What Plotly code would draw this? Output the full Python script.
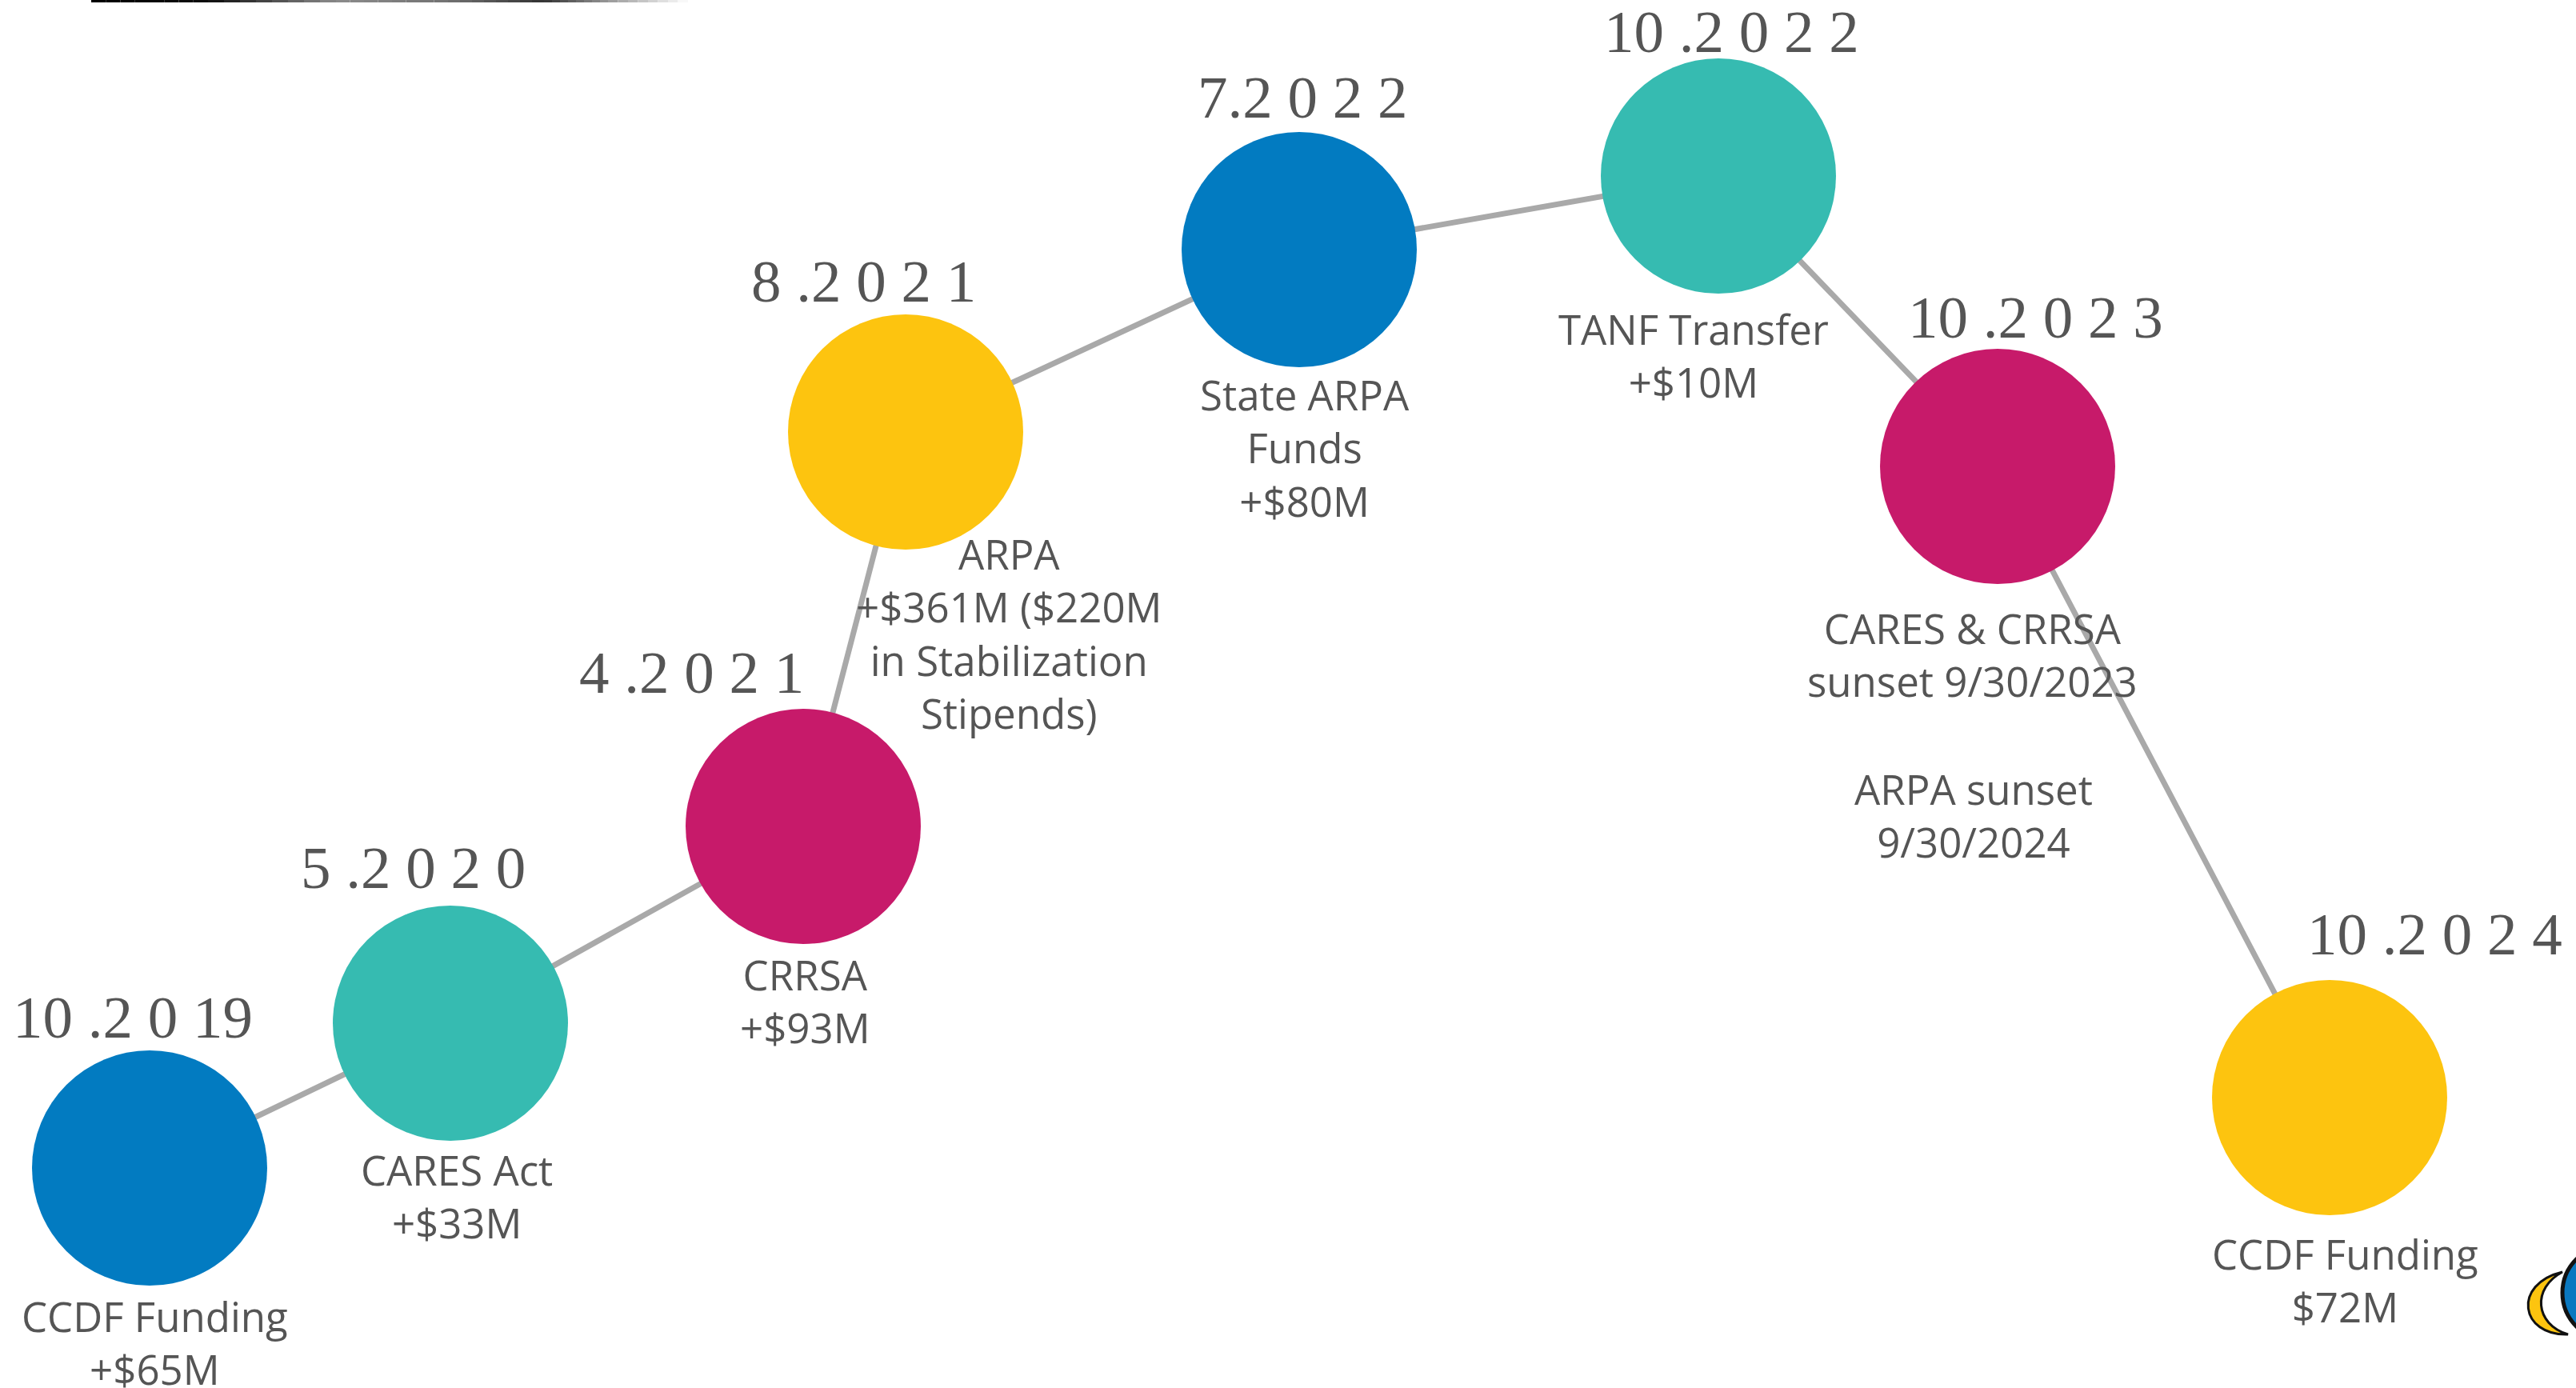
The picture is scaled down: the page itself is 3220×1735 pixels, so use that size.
import plotly.graph_objects as go

# timeline events (pixel space of the 3220x1735 canvas, y grows downward)
event_x = [187, 563, 1004, 1132, 1624, 2148, 2497, 2912]
event_y = [1460, 1279, 1033, 540, 312, 220, 583, 1372]
event_dates = ["10 .2 0 19", "5 .2 0 2 0", "4 .2 0 2 1", "8 .2 0 2 1",
               "7.2 0 2 2", "10 .2 0 2 2", "10 .2 0 2 3", "10 .2 0 2 4"]
event_labels = [
    "CCDF Funding<br>+$65M",
    "CARES Act<br>+$33M",
    "CRRSA<br>+$93M",
    "ARPA<br>+$361M ($220M<br>in Stabilization<br>Stipends)",
    "State ARPA<br>Funds<br>+$80M",
    "TANF Transfer<br>+$10M",
    "CARES & CRRSA<br>sunset 9/30/2023",
    "CCDF Funding<br>$72M",
]
event_colors = ["#027bc1", "#36bbb1", "#c71a6a", "#fdc40f",
                "#027bc1", "#36bbb1", "#c71a6a", "#fdc40f"]
extra_note = "ARPA sunset<br>9/30/2024"

# label placement offsets (layout only)
date_dx = [-21, -47, -140, -53, 4, 16, 47, 131]
date_dy = [-189, -195, -193, -189, -191, -181, -187, -205]
label_dx = [6, 8, 2, 129, 7, -31, -32, 19]
label_dy = [185, 183, 185, 152, 181, 191, 202, 195]

TEXT = "#555555"
SANS = "Open Sans, sans-serif"
W, H = 3220, 1735

fig = go.Figure()
fig.add_trace(go.Scatter(
    x=event_x, y=event_y,
    mode="lines+markers",
    line=dict(color="#a9a9a9", width=7),
    marker=dict(size=294, color=event_colors, line=dict(width=0)),
    hoverinfo="skip",
    showlegend=False,
))

annotations = []
for x, y, d, dx, dy in zip(event_x, event_y, event_dates, date_dx, date_dy):
    annotations.append(dict(
        x=x + dx, y=y + dy, text=d, showarrow=False,
        xanchor="center", yanchor="middle",
        font=dict(family="Liberation Serif, Times New Roman, serif", size=75, color=TEXT),
    ))
for x, y, t, dx, dy in zip(event_x, event_y, event_labels, label_dx, label_dy):
    annotations.append(dict(
        x=x + dx, y=y + dy - 37, text=t, showarrow=False,
        xanchor="center", yanchor="top",
        font=dict(family=SANS, size=51, color=TEXT),
    ))
annotations.append(dict(
    x=2467, y=949, text=extra_note, showarrow=False,
    xanchor="center", yanchor="top",
    font=dict(family=SANS, size=51, color=TEXT),
))

# fading rule across the top edge
shapes = []
stops = [(114, 0.0), (260, 0.05), (420, 0.55), (560, 0.45), (680, 0.2), (760, 0.6), (860, 1.0)]
for (x0, a0), (x1, a1) in zip(stops[:-1], stops[1:]):
    n = 8
    for k in range(n):
        t = (k + 0.5) / n
        g = int(255 * (a0 + (a1 - a0) * t))
        shapes.append(dict(type="rect", x0=x0 + (x1 - x0) * k / n, x1=x0 + (x1 - x0) * (k + 1) / n,
                           y0=0, y1=3, line=dict(width=0), fillcolor=f"rgb({g},{g},{g})"))

# partial logo at the bottom-right edge
shapes.append(dict(type="path",
                   path="M 3203,1590 C 3140,1605 3150,1670 3210,1668 C 3168,1655 3165,1610 3203,1590 Z",
                   fillcolor="#fdc40f", line=dict(color="#111111", width=3)))
shapes.append(dict(type="circle", x0=3203, x1=3325, y0=1556, y1=1676,
                   fillcolor="#0a78c0", line=dict(color="#111111", width=5)))

fig.update_layout(
    width=W, height=H,
    margin=dict(l=0, r=0, t=0, b=0),
    paper_bgcolor="white", plot_bgcolor="white",
    xaxis=dict(range=[0, W], visible=False, fixedrange=True),
    yaxis=dict(range=[H, 0], visible=False, fixedrange=True),
    annotations=annotations,
    shapes=shapes,
)

fig.write_html("out.html", config={"displayModeBar": False},
               post_script="document.body.style.margin='0';")
